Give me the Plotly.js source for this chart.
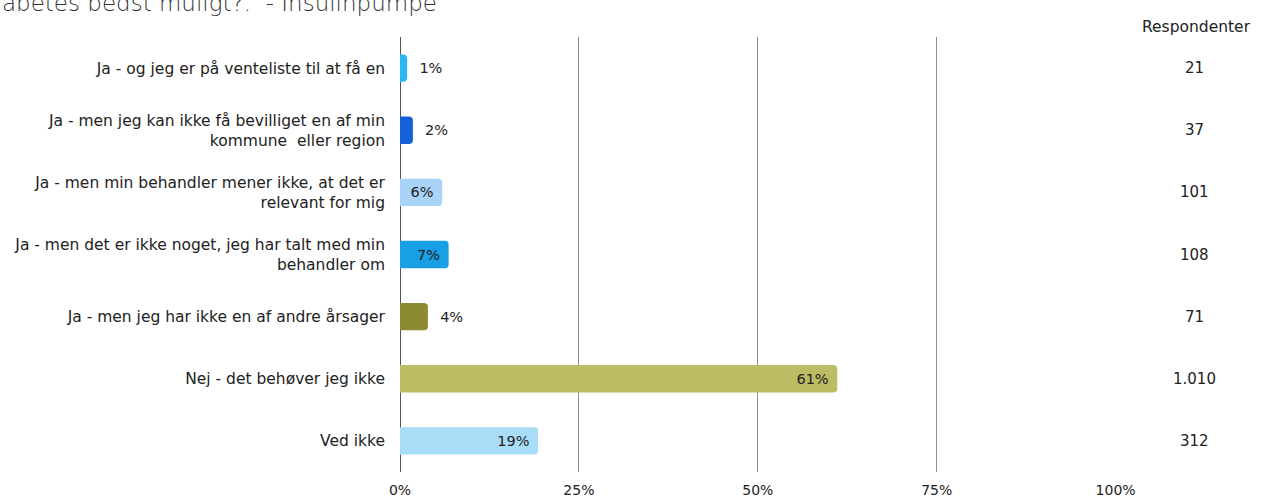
<!DOCTYPE html>
<html>
<head>
<meta charset="utf-8">
<script src="https://cdn.plot.ly/plotly-3.0.1.min.js"></script>
<style>html,body{margin:0;padding:0;background:#fff;}#chart{width:1261px;height:498px;}</style>
</head>
<body>
<div id="chart"></div>
<script>
const categories = [
  "Ja - og jeg er på venteliste til at få en",
  "Ja - men jeg kan ikke få bevilliget en af min<br>kommune  eller region",
  "Ja - men min behandler mener ikke, at det er<br>relevant for mig",
  "Ja - men det er ikke noget, jeg har talt med min<br>behandler om",
  "Ja - men jeg har ikke en af andre årsager",
  "Nej - det behøver jeg ikke",
  "Ved ikke"
];
const percents = [1.0, 1.8, 5.9, 6.8, 3.9, 61.1, 19.3];
const percentLabels = ["1%", "2%", "6%", "7%", "4%", "61%", "19%"];
const respondents = ["21", "37", "101", "108", "71", "1.010", "312"];
const barColors = ["#2ab8ee", "#1560d8", "#a9d3f7", "#199fe6", "#8c8b33", "#bdbb64", "#a9dcf6"];
const labelPositions = ["outside", "outside", "inside", "inside", "outside", "inside", "inside"];
const xTicks = [0, 25, 50, 75, 100];
const xTickLabels = ["0%", "25%", "50%", "75%", "100%"];
const titleText = "abetes bedst muligt?.  - Insulinpumpe";

const FONT = "DejaVu Sans";
const barText = percentLabels.map((t, i) => labelPositions[i] === "outside" ? "\u00a0\u00a0" + t : t + "\u00a0");

const trace = {
  type: "bar",
  orientation: "h",
  y: categories,
  x: percents,
  text: barText,
  textposition: labelPositions,
  insidetextanchor: "end",
  textangle: 0,
  constraintext: "none",
  cliponaxis: false,
  textfont: {family: FONT, size: 14.5, color: "#222"},
  insidetextfont: {family: FONT, size: 14.5, color: "#222"},
  outsidetextfont: {family: FONT, size: 14.5, color: "#222"},
  marker: {color: barColors, cornerradius: 4, line: {width: 0}},
  width: 0.44,
  hoverinfo: "none"
};

const annotations = categories.map((c, i) => ({
  xref: "paper", yref: "y", x: 1.109, y: c, text: respondents[i],
  showarrow: false, xanchor: "center", yanchor: "middle",
  font: {family: FONT, size: 15, color: "#222"}
}));
annotations.push({
  xref: "paper", yref: "paper", x: 1.112, y: 1.023, text: "Respondenter",
  showarrow: false, xanchor: "center", yanchor: "middle",
  font: {family: FONT, size: 15.5, color: "#222"}
});
annotations.push({
  xref: "paper", yref: "paper", x: -0.5587, y: 1.1126, text: titleText,
  showarrow: false, xanchor: "left", yanchor: "top",
  font: {family: FONT, size: 23, color: "#333", weight: 200}
});

const layout = {
  width: 1261, height: 498,
  margin: {l: 400, r: 145, t: 37, b: 26, pad: 0},
  paper_bgcolor: "#fff", plot_bgcolor: "#fff",
  showlegend: false,
  xaxis: {
    range: [0, 100.05], tickvals: xTicks, ticktext: xTickLabels,
    showgrid: true, gridcolor: "#8f8f8f", gridwidth: 1,
    zeroline: true, zerolinecolor: "#555", zerolinewidth: 1,
    showline: false, ticks: "", ticklabelstandoff: 8,
    tickfont: {family: FONT, size: 14, color: "#222"},
    fixedrange: true
  },
  yaxis: {
    type: "category", autorange: "reversed",
    showgrid: false, zeroline: false, showline: false, ticks: "",
    ticklabelstandoff: 14,
    tickfont: {family: FONT, size: 15.5, color: "#222"},
    fixedrange: true
  },
  annotations: annotations
};

Plotly.newPlot("chart", [trace], layout, {displayModeBar: false, staticPlot: true});
</script>
</body>
</html>
